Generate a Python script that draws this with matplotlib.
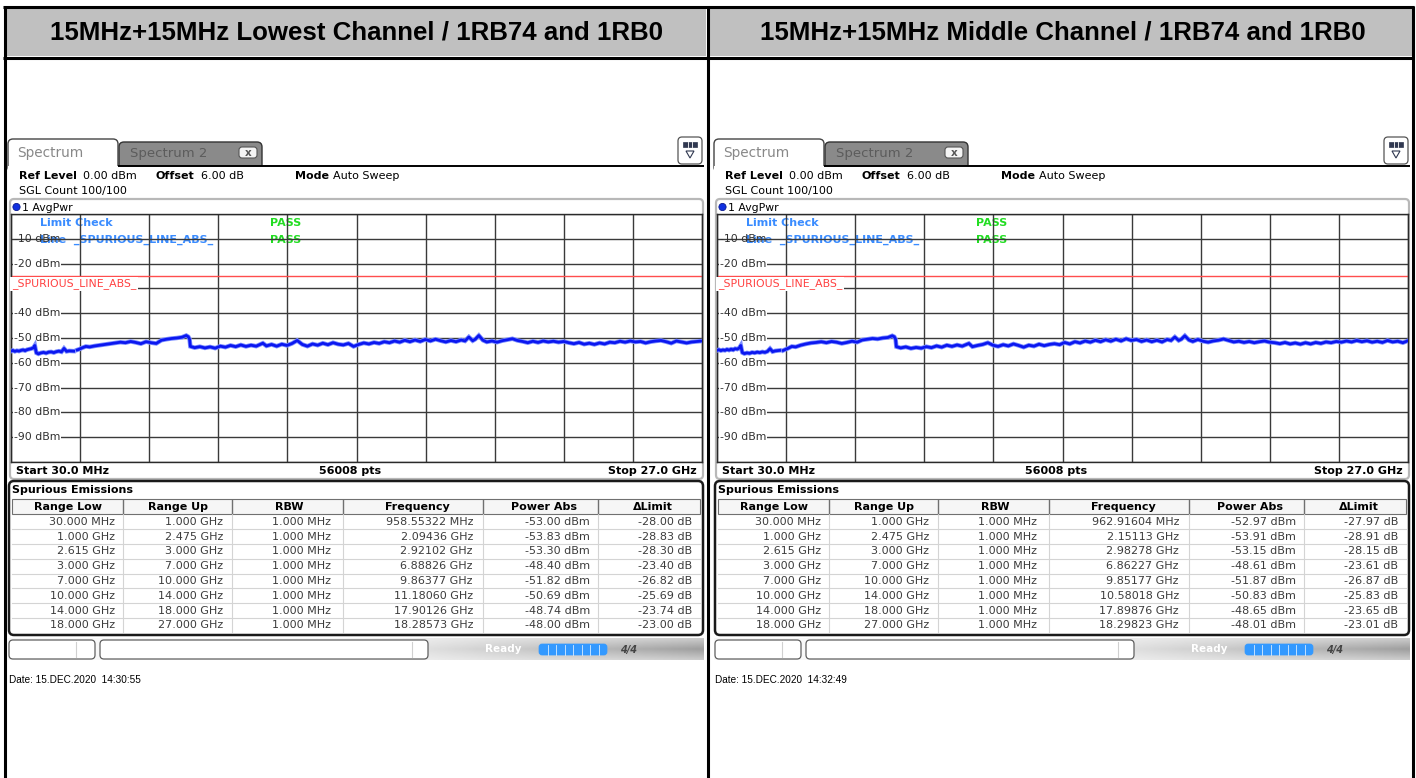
import matplotlib
matplotlib.use("Agg")
import matplotlib.pyplot as plt
import numpy as np
from matplotlib.patches import Rectangle, FancyBboxPatch, Circle, Polygon

# ---------------- data ----------------
panel_titles = ["15MHz+15MHz Lowest Channel / 1RB74 and 1RB0",
                "15MHz+15MHz Middle Channel / 1RB74 and 1RB0"]
panel_dates = ["Date: 15.DEC.2020  14:30:55", "Date: 15.DEC.2020  14:32:49"]

start_ghz, stop_ghz = 0.03, 27.0
limit_dbm = -25.0
y_ticks_dbm = [-10, -20, -30, -40, -50, -60, -70, -80, -90]

# trace sample frequencies (GHz): segment below and above the excluded band
freq_a = [0.03, 0.10, 0.18, 0.26, 0.34, 0.42, 0.50, 0.58, 0.66, 0.74,
          0.82, 0.90, 0.96, 0.99, 1.02, 1.10, 1.20, 1.30, 1.40, 1.50,
          1.60, 1.70, 1.80, 1.90, 2.00, 2.10, 2.20, 2.30, 2.475]
freq_b = [2.615, 2.70, 2.80, 2.95, 3.10, 3.30, 3.50, 3.70, 3.90, 4.10,
          4.30, 4.50, 4.70, 4.90, 5.10, 5.30, 5.50, 5.70, 5.90, 6.10,
          6.30, 6.50, 6.70, 6.87, 6.95, 7.00, 7.03, 7.20, 7.40, 7.60,
          7.80, 8.00, 8.20, 8.40, 8.60, 8.80, 9.00, 9.20, 9.40, 9.60,
          9.86, 10.00, 10.20, 10.40, 10.60, 10.80, 11.00, 11.20, 11.40, 11.60,
          11.80, 12.00, 12.20, 12.40, 12.60, 12.80, 13.00, 13.20, 13.40, 13.60,
          13.80, 14.00, 14.20, 14.40, 14.60, 14.80, 15.00, 15.20, 15.40, 15.60,
          15.80, 16.00, 16.20, 16.40, 16.60, 16.80, 17.00, 17.20, 17.40, 17.60,
          17.75, 17.90, 18.05, 18.15, 18.29, 18.45, 18.60, 18.80, 19.00, 19.20,
          19.40, 19.60, 19.80, 20.00, 20.20, 20.40, 20.60, 20.80, 21.00, 21.20,
          21.40, 21.60, 21.80, 22.00, 22.20, 22.40, 22.60, 22.80, 23.00, 23.20,
          23.40, 23.60, 23.80, 24.00, 24.20, 24.40, 24.60, 24.80, 25.00, 25.20,
          25.40, 25.60, 25.80, 26.00, 26.20, 26.40, 26.60, 26.80, 27.00]

lowest_a = [-55.3, -55.0, -55.4, -55.1, -55.3, -55.0, -54.8, -55.1, -54.7, -54.5,
            -54.3, -54.0, -53.0, -54.6, -56.0, -56.4, -56.0, -55.8, -56.1, -55.7,
            -55.6, -55.9, -55.5, -55.3, -55.6, -54.2, -55.4, -55.2, -55.3]
lowest_b = [-54.8, -54.5, -54.0, -53.4, -53.6, -53.2, -52.9, -52.6, -52.3, -52.0,
            -51.7, -51.9, -51.4, -51.8, -52.3, -51.5, -51.9, -52.2, -50.9, -50.5,
            -50.2, -50.0, -49.7, -49.0, -49.5, -50.5, -53.4, -53.9, -53.5, -54.0,
            -53.6, -54.1, -53.3, -53.7, -53.0, -53.5, -52.8, -53.4, -52.9, -53.3,
            -52.1, -53.2, -52.6, -53.3, -52.5, -53.0, -52.2, -51.0, -52.6, -53.3,
            -52.4, -52.9, -52.1, -52.7, -51.9, -52.5, -52.8, -52.2, -53.4, -52.6,
            -52.0, -52.4, -51.8, -52.2, -51.5, -51.9, -51.2, -51.7, -50.9, -51.5,
            -50.8, -51.4, -50.6, -51.2, -50.5, -51.1, -51.6, -51.0, -51.5, -50.8,
            -51.2, -49.6, -51.1, -50.5, -49.0, -50.9, -51.6, -51.2, -51.7, -51.1,
            -50.7, -50.3, -51.0, -51.4, -51.9, -51.3, -51.8, -51.2, -51.6, -51.3,
            -51.7, -51.4, -51.9, -52.3, -51.8, -52.5, -52.1, -52.6, -52.0, -52.4,
            -51.7, -51.9, -51.3, -51.7, -51.2, -51.6, -51.4, -52.0, -51.5, -51.2,
            -51.0, -51.5, -52.1, -51.2, -51.6, -52.0, -51.6, -51.4, -51.2]

middle_a = [-55.0, -54.7, -55.1, -54.8, -55.0, -54.6, -54.9, -54.5, -54.8, -54.3,
            -54.5, -54.0, -53.0, -54.6, -55.9, -56.3, -56.0, -56.2, -55.8, -56.0,
            -55.7, -55.9, -55.6, -55.8, -55.4, -54.3, -55.5, -55.2, -55.0]
middle_b = [-55.0, -54.6, -54.2, -53.4, -53.6, -52.9, -52.4, -52.0, -51.8, -51.5,
            -51.9, -51.4, -51.7, -52.2, -51.8, -51.3, -51.7, -50.8, -50.5, -50.2,
            -50.4, -50.0, -49.8, -49.1, -49.5, -50.5, -53.5, -54.0, -53.6, -54.2,
            -53.8, -54.1, -53.5, -53.9, -53.2, -53.7, -52.9, -53.4, -52.8, -53.3,
            -52.2, -53.5, -53.0, -52.6, -51.9, -52.9, -53.4, -52.7, -53.2, -52.4,
            -53.0, -53.7, -52.9, -53.3, -52.5, -53.1, -52.6, -52.3, -52.7, -51.8,
            -52.4, -51.5, -52.0, -51.2, -51.7, -50.9, -51.5, -50.7, -51.3, -50.5,
            -51.2, -50.3, -51.0, -50.6, -51.4, -50.8, -51.5, -50.9, -51.6, -50.6,
            -51.0, -49.6, -51.0, -50.5, -49.1, -50.8, -51.4, -50.6, -51.3, -51.7,
            -51.2, -50.9, -50.4, -51.0, -51.6, -51.3, -51.8, -51.4, -51.9, -51.5,
            -51.2, -51.7, -51.9, -52.3, -51.8, -52.4, -52.0, -52.5, -51.9, -52.4,
            -51.8, -52.2, -51.6, -51.9, -51.4, -51.7, -51.2, -51.6, -51.0, -51.5,
            -51.1, -51.7, -51.3, -51.8, -51.0, -51.6, -51.3, -51.9, -51.1]

# spurious emissions table
table_headers = ["Range Low", "Range Up", "RBW", "Frequency", "Power Abs", "\u0394Limit"]
range_low = ["30.000 MHz", "1.000 GHz", "2.615 GHz", "3.000 GHz",
             "7.000 GHz", "10.000 GHz", "14.000 GHz", "18.000 GHz"]
range_up = ["1.000 GHz", "2.475 GHz", "3.000 GHz", "7.000 GHz",
            "10.000 GHz", "14.000 GHz", "18.000 GHz", "27.000 GHz"]
rbw = ["1.000 MHz"] * 8
freq_lowest = ["958.55322 MHz", "2.09436 GHz", "2.92102 GHz", "6.88826 GHz",
               "9.86377 GHz", "11.18060 GHz", "17.90126 GHz", "18.28573 GHz"]
power_lowest = [-53.00, -53.83, -53.30, -48.40, -51.82, -50.69, -48.74, -48.00]
dlimit_lowest = [-28.00, -28.83, -28.30, -23.40, -26.82, -25.69, -23.74, -23.00]
freq_middle = ["962.91604 MHz", "2.15113 GHz", "2.98278 GHz", "6.86227 GHz",
               "9.85177 GHz", "10.58018 GHz", "17.89876 GHz", "18.29823 GHz"]
power_middle = [-52.97, -53.91, -53.15, -48.61, -51.87, -50.83, -48.65, -48.01]
dlimit_middle = [-27.97, -28.91, -28.15, -23.61, -26.87, -25.83, -23.65, -23.01]

# ---------------- figure ----------------
W, H = 1416, 778
fig = plt.figure(figsize=(W / 100, H / 100), dpi=100)
bg = fig.add_axes([0, 0, 1, 1])
bg.set_xlim(0, W)
bg.set_ylim(H, 0)
bg.axis("off")

UI = "DejaVu Sans"
HDR = "Liberation Sans"


def px_axes(x0, y0, x1, y1):
    return fig.add_axes([x0 / W, 1 - y1 / H, (x1 - x0) / W, (y1 - y0) / H])


def rbox(x0, y0, x1, y1, r=3, fc="white", ec="black", lw=1.0, z=1, ax=None):
    ax = ax or bg
    p = FancyBboxPatch((x0 + r, y0 + r), (x1 - x0) - 2 * r, (y1 - y0) - 2 * r,
                       boxstyle=f"round,pad={r}", fc=fc, ec=ec, lw=lw, zorder=z,
                       mutation_aspect=1)
    ax.add_patch(p)
    return p


def txt(x, y, s, size=8, color="black", weight="normal", ha="left", va="center",
        family=UI, z=5, ax=None, **kw):
    ax = ax or bg
    return ax.text(x, y, s, fontsize=size, color=color, fontweight=weight, ha=ha,
                   va=va, family=family, zorder=z,
                   transform=bg.transData, **kw)


def draw_panel(ox, title, date, tr_a, tr_b, freqs, powers, dlimits):
    # header cell
    bg.add_patch(Rectangle((ox + 4, 8), 702, 48, fc="#c0c0c0", ec="none", zorder=0))
    txt(ox + 357, 32.5, title, size=18.6, weight="bold", ha="center", family=HDR)

    # tabs
    rbox(ox + 119, 142, ox + 262, 170, r=5, fc="#8a8a8a", ec="#333333", lw=1.0, z=2)
    txt(ox + 130, 153, "Spectrum 2", size=9.5, color="#5c5c5c")
    rbox(ox + 239, 147, ox + 257, 158, r=3, fc="#f4f4f4", ec="#555555", lw=0.8, z=3)
    txt(ox + 248, 152.5, "x", size=7.5, color="#555555", ha="center", weight="bold")
    rbox(ox + 8, 139, ox + 118, 172, r=5, fc="white", ec="#444444", lw=1.0, z=3)
    bg.add_patch(Rectangle((ox + 8, 166), 697, 20, fc="white", ec="none", zorder=3.5))
    txt(ox + 17, 153, "Spectrum", size=9.8, color="#888888")
    bg.plot([ox + 118, ox + 704], [165.5, 165.5], color="black", lw=1.4, zorder=4,
            solid_capstyle="butt")
    # menu icon
    rbox(ox + 678, 137, ox + 702, 164, r=4, fc="white", ec="#555555", lw=0.9, z=5)
    bg.add_patch(Rectangle((ox + 683, 142), 14, 5, fc="#303850", ec="#303850", lw=0.5, zorder=6))
    for k in (1, 2):
        bg.plot([ox + 683 + k * 14 / 3] * 2, [142, 147], color="white", lw=0.6, zorder=7)
    bg.add_patch(Polygon([[ox + 686, 151], [ox + 694, 151], [ox + 690, 158]], closed=True,
                         fc="white", ec="#303850", lw=0.8, zorder=6))

    # settings lines
    txt(ox + 19, 176, "Ref Level", weight="bold")
    txt(ox + 83, 176, "0.00 dBm")
    txt(ox + 155, 176, "Offset", weight="bold")
    txt(ox + 201, 176, "6.00 dB")
    txt(ox + 295, 176, "Mode", weight="bold")
    txt(ox + 333, 176, "Auto Sweep")
    txt(ox + 19, 191, "SGL Count 100/100")

    # trace window box
    rbox(ox + 10, 199, ox + 703, 479, r=4, fc="white", ec="#b8b8b8", lw=1.6, z=4)
    bg.add_patch(Circle((ox + 16.5, 207), 3.6, fc="#1030e0", ec="#0a1a90", lw=0.6, zorder=6))
    txt(ox + 22, 207.5, "1 AvgPwr", size=7.8)
    txt(ox + 16, 471, "Start 30.0 MHz", weight="bold", z=6)
    txt(ox + 350, 471, "56008 pts", weight="bold", ha="center", z=6)
    txt(ox + 697, 471, "Stop 27.0 GHz", weight="bold", ha="right", z=6)

    # spurious table box
    rbox(ox + 9, 481, ox + 703, 635, r=5, fc="white", ec="#1a1a1a", lw=1.8, z=4)
    txt(ox + 12, 490, "Spurious Emissions", weight="bold", z=6)
    bounds = [12, 123, 232, 343, 483, 598, 700]
    hdr_c = [68, 178, 289, 417, 544, 653]
    right_edges = [115, 223, 331, 473, 590, 692]
    top_h, bot_h = 499, 514
    bg.add_patch(Rectangle((ox + 12, top_h), 688, bot_h - top_h, fc="#f6f6f6",
                           ec="#707070", lw=0.8, zorder=5))
    for b in bounds[1:-1]:
        bg.plot([ox + b, ox + b], [top_h + 1, bot_h - 1], color="#707070", lw=1.0, zorder=6)
    for h, c in zip(table_headers, hdr_c):
        txt(ox + c, 506.5, h, weight="bold", ha="center", z=7)
    row_h = 14.8
    cols = [range_low, range_up, rbw, freqs,
            [f"{p:.2f} dBm" for p in powers], [f"{d:.2f} dB" for d in dlimits]]
    for i in range(8):
        yc = 521.7 + i * row_h
        if i > 0:
            bg.plot([ox + 12, ox + 700], [yc - row_h / 2] * 2, color="#d4d4d4", lw=0.8, zorder=5)
        for j in range(6):
            txt(ox + right_edges[j], yc, cols[j][i], ha="right", color="#3c3c3c", z=7)
    for b in bounds[1:-1]:
        bg.plot([ox + b, ox + b], [bot_h, 632], color="#d4d4d4", lw=0.8, zorder=5)

    # status bar
    grad = np.linspace(0, 1, 200)[None, :] * np.ones((20, 1))
    vert = np.abs(np.linspace(-1, 1, 20))[:, None]
    shade = 0.97 - 0.35 * np.clip((grad - 0.45) / 0.55, 0, 1) * (1 - 0.5 * vert)
    bg.imshow(shade, cmap="gray", vmin=0, vmax=1, extent=(ox + 8, ox + 704, 660, 638),
              aspect="auto", zorder=1, interpolation="bilinear")
    rbox(ox + 9, 640, ox + 95, 659, r=4, fc="white", ec="#606060", lw=0.9, z=3)
    rbox(ox + 100, 640, ox + 428, 659, r=4, fc="white", ec="#606060", lw=0.9, z=3)
    bg.plot([ox + 76, ox + 76], [642, 657], color="#d0d0d0", lw=0.8, zorder=4)
    bg.plot([ox + 412, ox + 412], [642, 657], color="#d0d0d0", lw=0.8, zorder=4)
    txt(ox + 485, 649, "Ready", size=7.5, color="white", weight="bold", z=4)
    rbox(ox + 539, 644, ox + 607, 655, r=3, fc="#3399ff", ec="#3399ff", lw=0.5, z=3)
    for k in range(1, 8):
        bg.plot([ox + 539 + k * 68 / 8] * 2, [644.5, 654.5], color="#d8ecff", lw=0.6, zorder=4)
    txt(ox + 629, 649.5, "4/4", size=7, color="#444444", weight="bold", ha="center",
        style="italic", z=4)

    # date
    txt(ox + 9, 680, date, size=7.2, family=HDR)

    # spectrum plot axes
    ax = px_axes(ox + 11, 214, ox + 702, 462)
    ax.set_xlim(start_ghz, stop_ghz)
    ax.set_ylim(-100, 0)
    ax.set_xticks(np.linspace(start_ghz, stop_ghz, 11))
    ax.set_yticks(np.arange(-100, 1, 10))
    ax.tick_params(length=0, labelbottom=False, labelleft=False)
    ax.grid(True, color="#3a3a3a", lw=1.0)
    for s in ax.spines.values():
        s.set_color("#2a2a2a")
        s.set_linewidth(1.0)
    ax.axhline(limit_dbm, color="#ff4d4d", lw=1.0, zorder=1.8)
    for v in y_ticks_dbm:
        box = None if v == -10 else dict(fc="white", ec="none", pad=0.6)
        ax.text(0.004, v, f"{v} dBm", transform=ax.get_yaxis_transform(), fontsize=7.8,
                family=UI, color="#303030", va="center", ha="left", zorder=2.2, bbox=box)
    ax.text(0.0015, limit_dbm - 3.2, "_SPURIOUS_LINE_ABS_", transform=ax.get_yaxis_transform(),
            fontsize=7.8, family=UI, color="#ff4040", va="center", ha="left", zorder=2.6,
            bbox=dict(fc="white", ec="none", pad=1.2))
    ax.text(ox + 40, 223, "Limit Check", transform=bg.transData, fontsize=8, family=UI,
            color="#3a8cff", weight="bold", va="center", zorder=1)
    ax.text(ox + 40, 240, "Line  _SPURIOUS_LINE_ABS_", transform=bg.transData, fontsize=8,
            family=UI, color="#3a8cff", weight="bold", va="center", zorder=1)
    ax.text(ox + 270, 223, "PASS", transform=bg.transData, fontsize=8, family=UI,
            color="#22dd22", weight="bold", va="center", zorder=1)
    ax.text(ox + 270, 240, "PASS", transform=bg.transData, fontsize=8, family=UI,
            color="#22dd22", weight="bold", va="center", zorder=1)
    for fr, lv in ((freq_a, tr_a), (freq_b, tr_b)):
        ax.plot(fr, lv, color="#7a8cff", lw=3.2, zorder=3, solid_joinstyle="miter")
        ax.plot(fr, lv, color="#0b17f0", lw=2.0, zorder=3.1)


draw_panel(0, panel_titles[0], panel_dates[0], lowest_a, lowest_b,
           freq_lowest, power_lowest, dlimit_lowest)
draw_panel(706, panel_titles[1], panel_dates[1], middle_a, middle_b,
           freq_middle, power_middle, dlimit_middle)

# outer frame lines
lw_frame = 2.2
bg.plot([3, 1414], [6.5, 6.5], color="black", lw=lw_frame, zorder=10, solid_capstyle="butt")
bg.plot([3, 1414], [57.5, 57.5], color="black", lw=lw_frame, zorder=10, solid_capstyle="butt")
for xv in (5, 707.5, 1412.5):
    bg.plot([xv, xv], [5.5, 778], color="black", lw=lw_frame, zorder=10, solid_capstyle="butt")

fig.savefig("out.png", dpi=100)
